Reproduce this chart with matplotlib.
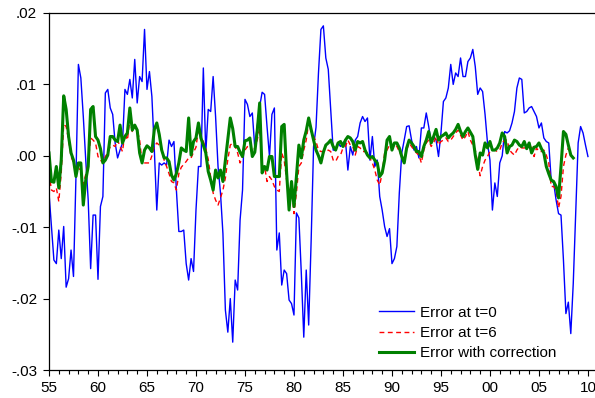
import numpy as np
import matplotlib.pyplot as plt
from matplotlib.ticker import FixedLocator, MultipleLocator

plt.rcParams["font.family"] = ["Liberation Sans", "DejaVu Sans"]

# quarterly errors from 1955Q1, in units of 0.001
err_t0 = [
    -5.2, -10.0, -14.6, -15.1, -10.4, -14.4, -9.9, -18.4, -17.2, -13.2,
    -16.9, -3.0, 12.8, 10.9, 5.5, -0.6, -6.2, -15.8, -8.3, -8.3,
    -17.3, -7.1, -5.7, 8.8, 9.3, 6.7, 5.8, 1.8, -0.3, 0.8,
    1.8, 9.3, 8.6, 10.7, 8.1, 13.5, 7.4, 11.1, 10.4, 17.7,
    9.3, 11.8, 8.3, 0.8, -7.6, -1.0, -1.3, -1.0, -1.3, 2.2,
    1.3, 2.0, -4.8, -10.6, -10.6, -10.4, -15.1, -17.4, -14.4, -16.2,
    -7.6, -1.5, -1.5, 12.3, 0.4, 6.5, 6.2, 11.1, 5.5, -1.5,
    -5.2, -10.9, -21.6, -24.7, -20.0, -26.1, -17.4, -18.8, -9.0, -4.8,
    7.9, 7.2, 5.5, 6.0, 1.1, 4.1, 6.9, 8.9, 8.6, 4.1,
    -0.1, 5.8, 6.7, -13.2, -10.8, -18.1, -16.0, -16.5, -20.2, -20.7,
    -22.3, -8.0, -8.7, -16.5, -25.4, -16.0, -23.7, -12.0, 1.3, 4.0,
    11.6, 17.7, 18.2, 13.7, 12.1, 6.5, 0.8, 0.8, 1.8, 1.3,
    1.8, 2.2, -2.0, 1.3, 0.1, 2.2, 2.7, 4.6, 5.5, 4.8,
    5.3, -0.6, 2.7, -1.5, -0.6, -5.7, -7.6, -9.9, -11.3, -10.2,
    -15.1, -14.4, -12.7, -5.2, 0.4, 2.2, 4.1, 4.2, 2.2, 0.8,
    1.3, -0.3, 3.9, 3.9, 6.0, 4.1, 1.8, 2.7, 2.2, -0.1,
    3.2, 7.6, 8.1, 9.5, 12.8, 10.0, 11.6, 11.1, 13.7, 11.1,
    11.1, 13.2, 13.7, 14.9, 12.5, 8.6, 9.5, 9.0, 5.8, 1.8,
    -0.6, -7.6, -3.8, -5.7, -1.0, 0.0, 3.4, 3.2, 3.5, 4.6,
    6.2, 9.5, 10.9, 10.7, 6.0, 6.2, 6.7, 6.9, 6.2, 5.5,
    3.9, 4.6, 2.5, 2.0, 1.8, -3.4, -3.8, -6.2, -8.1, -8.3,
    -14.6, -22.1, -20.5, -24.9, -17.9, -8.1, 1.8, 4.1, 3.2, 1.5,
    -0.1,
]

err_t6 = [
    -2.4, -4.8, -5.0, -4.5, -6.4, -2.4, 4.4, 4.1, 2.2, -0.1,
    -1.0, -2.0, -2.0, -1.7, -4.0, -2.6, -1.0, 2.5, 2.2, 1.8,
    -0.1, -0.6, -1.0, -0.1, 0.4, 1.3, 1.5, 1.3, 2.2, 1.3,
    0.6, 3.2, 2.2, 5.0, 3.4, 4.1, 3.6, 2.2, -1.0, -1.0,
    -1.0, -1.0, 0.0, 1.3, 1.8, 1.5, 0.8, -0.6, -1.5, -2.5,
    -3.6, -3.8, -4.8, -2.5, -1.6, -1.2, -0.8, -0.3, -0.3, 0.5,
    1.2, 3.7, 2.7, 2.0, 1.0, -0.5, -3.0, -5.2, -6.2, -6.9,
    -5.9, -4.8, -3.1, -0.5, 1.5, 1.8, 1.3, 0.4, -1.0, -0.1,
    0.8, 1.3, 1.1, 0.4, 1.1, 2.2, 3.9, -1.5, -1.5, -3.6,
    -2.9, -3.4, -4.3, -4.8, -5.0, 0.4, -0.6, -3.4, -4.8, -4.3,
    -8.1, -5.2, -1.5, -1.0, 0.8, 2.2, 4.6, 3.4, 2.7, 2.0,
    0.8, 0.6, 0.6, 0.6, 0.8, 0.6, -0.6, -0.8, -0.1, 0.1,
    1.1, 1.3, 2.2, 1.5, 1.3, 0.1, 1.3, 1.1, 0.6, 0.6,
    0.4, -0.3, -1.0, -2.0, -3.4, -4.1, -2.4, 0.4, 0.8, 1.5,
    1.3, 1.8, 1.3, 0.6, -0.1, -1.0, 0.8, 1.8, 1.3, 0.8,
    0.4, 0.1, -1.0, 0.8, 1.8, 2.2, 1.3, 1.8, 2.7, 1.5,
    2.0, 2.2, 2.5, 2.0, 2.2, 2.7, 3.2, 3.6, 2.9, 2.2,
    2.7, 3.4, 2.2, 1.5, 0.8, -1.0, -2.8, -1.5, -0.6, -0.1,
    0.6, 0.8, 0.8, 0.6, 0.8, 1.8, 2.2, 2.2, 0.8, 0.4,
    0.1, 0.8, 1.3, 1.1, 1.1, 1.1, 1.8, 1.3, -0.1, 1.1,
    0.6, 0.6, 0.8, 0.1, -1.0, -4.3, -4.3, -4.8, -7.3, -5.7,
    -1.5, 0.1, 1.1,
]

err_corr = [
    0.4, -3.6, -3.7, -1.5, -4.5, -0.6, 8.4, 6.5, 2.7, 0.4,
    -0.6, -2.9, -1.0, -1.0, -6.9, -3.4, -1.5, 6.5, 6.9, 2.7,
    2.2, 1.0, -1.0, -0.6, 0.1, 2.7, 2.7, 2.2, 2.0, 4.3,
    1.8, 2.7, 3.2, 6.7, 3.6, 4.3, 3.6, 0.4, -1.0, 0.8,
    1.4, 1.1, 0.6, 3.7, 4.6, 3.0, 0.8, -0.3, -0.3, -0.8,
    -2.7, -3.4, -2.5, -1.0, 1.1, 0.8, 0.6, 5.3, 0.1, 2.0,
    2.5, 4.6, 2.5, 1.5, 0.4, -2.2, -3.4, -4.8, -2.0, -3.1,
    -2.0, -3.6, -0.6, 2.5, 5.3, 3.8, 1.3, 1.3, 0.5, -0.1,
    2.1, 2.2, 2.5, -0.1, 0.5, 3.5, 7.4, -2.4, -1.5, -2.0,
    -0.1, -0.1, -2.9, -2.9, -2.9, 4.1, 4.4, -2.4, -7.6, -3.6,
    -7.1, -2.9, 1.5, -0.3, 2.2, 3.5, 5.3, 3.7, 2.2, 0.8,
    0.0, -1.0, 0.5, 1.5, 1.8, 2.2, 1.3, 0.8, 1.8, 2.0,
    1.3, 2.2, 2.7, 2.5, 2.0, 0.8, 2.0, 1.8, 2.0, 0.8,
    0.1, -0.3, -0.1, -0.6, -1.0, -2.9, -2.4, -0.6, 2.2, 2.7,
    0.8, 1.8, 1.8, 1.1, -0.1, -1.0, 1.1, 2.2, 1.8, 1.3,
    0.6, 0.6, -0.1, 1.3, 2.2, 3.4, 1.8, 2.7, 3.7, 2.2,
    2.7, 2.9, 3.2, 2.5, 2.9, 3.2, 3.7, 4.4, 3.4, 2.7,
    3.4, 3.9, 3.3, 2.7, 0.1, -1.9, 0.4, 0.1, 1.8, 1.1,
    2.0, 0.8, 0.8, 1.1, 1.8, 3.2, 2.7, 0.4, 1.3, 1.5,
    2.2, 2.0, 1.5, 1.3, 2.0, 1.0, 1.8, 0.4, 1.2, 1.3,
    1.8, 1.0, 0.4, -1.5, -2.5, -3.4, -3.6, -4.3, -5.9, -1.5,
    3.4, 3.0, 1.5, 0.1, -0.3,
]

labels = ["Error at t=0", "Error at t=6", "Error with correction"]
x_ticks = list(range(1955, 2011, 5))
x_ticklabels = ["%02d" % (y % 100) for y in x_ticks]
y_ticks = [0.02, 0.01, 0.0, -0.01, -0.02, -0.03]
y_ticklabels = [".02", ".01", ".00", "-.01", "-.02", "-.03"]


def quarters(vals):
    """Dates and values for a quarterly series starting 1955Q1."""
    v = np.array(vals) / 1000
    return 1955 + 0.25 * np.arange(len(v)), v


fig = plt.figure(figsize=(5.95, 3.98), dpi=100)
ax = fig.add_axes([49 / 595, 28 / 398, 546 / 595, 357 / 398])

t, v = quarters(err_t0)
ax.plot(t, v, color="#0000ff", lw=1.0, label=labels[0])
t, v = quarters(err_t6)
ax.plot(t, v, color="#ff0000", lw=1.0, ls=(0, (3.5, 2.5)), label=labels[1])
t, v = quarters(err_corr)
ax.plot(t, v, color="#008000", lw=2.2, label=labels[2])

ax.set_xlim(1955, 2010.72)
ax.set_ylim(-0.03, 0.02)
ax.xaxis.set_major_locator(FixedLocator(x_ticks))
ax.xaxis.set_minor_locator(MultipleLocator(1))
ax.set_xticklabels(x_ticklabels)
ax.set_yticks(y_ticks)
ax.set_yticklabels(y_ticklabels)

ax.spines["right"].set_visible(False)
for s in ["left", "top", "bottom"]:
    ax.spines[s].set_linewidth(0.9)
ax.tick_params(axis="x", which="major", direction="out", length=4.5,
               width=0.8, pad=3.5, labelsize=11)
ax.tick_params(axis="x", which="minor", direction="out", length=3,
               width=0.8)
ax.tick_params(axis="y", direction="out", length=4.5, width=0.8,
               pad=4, labelsize=11)

ax.legend(loc="lower left", bbox_to_anchor=(379 / 595, 38 / 398),
          bbox_transform=fig.transFigure, frameon=False, fontsize=11,
          handlelength=2.3, handletextpad=0.4, labelspacing=0.4,
          borderpad=0, borderaxespad=0)

fig.savefig("out.png", dpi=100)
